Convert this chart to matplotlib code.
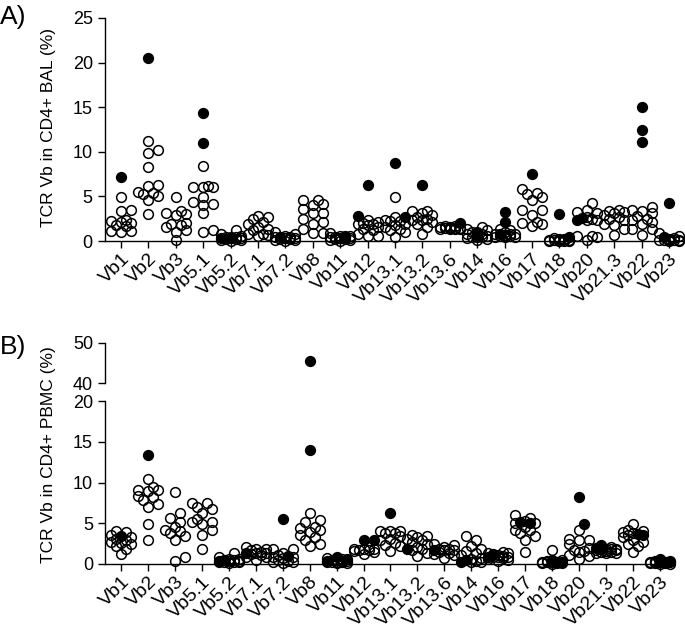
import numpy as np
import matplotlib
matplotlib.use("Agg")
import matplotlib.pyplot as plt

plt.rcParams['font.family'] = ['Liberation Sans', 'DejaVu Sans']

categories = ['Vb1', 'Vb2', 'Vb3', 'Vb5.1', 'Vb5.2', 'Vb7.1', 'Vb7.2', 'Vb8', 'Vb11',
              'Vb12', 'Vb13.1', 'Vb13.2', 'Vb13.6', 'Vb14', 'Vb16', 'Vb17', 'Vb18',
              'Vb20', 'Vb21.3', 'Vb22', 'Vb23']

# A) BAL - open circles / filled circles, per category
bal_open = [
    [4.9, 3.4, 3.5, 2.1, 2.0, 2.2, 2.3, 1.7, 1.1, 1.0, 1.1, 1.8],
    [11.2, 9.9, 10.2, 8.3, 6.2, 6.3, 5.4, 5.3, 5.5, 4.6, 5.1, 3.0],
    [4.9, 3.0, 3.1, 3.4, 2.0, 1.8, 1.6, 1.0, 0.1, 2.9, 1.9, 1.2],
    [8.4, 6.2, 6.0, 6.0, 6.0, 4.9, 4.4, 4.0, 3.1, 1.2, 1.0, 4.1],
    [1.2, 0.8, 0.5, 0.3, 0.1, 0.1, 0.2, 0.6, 0.4, 0.0, 0.3, 0.2],
    [2.8, 2.7, 2.5, 2.1, 1.9, 1.6, 1.2, 0.8, 0.6, 0.8, 0.7, 1.4],
    [1.0, 0.8, 0.5, 0.3, 0.1, 0.1, 0.2, 0.6, 0.0, 0.3, 0.4, 0.2],
    [4.6, 4.6, 4.1, 4.0, 3.6, 3.1, 3.1, 2.5, 2.1, 1.9, 1.3, 0.9, 0.9],
    [0.9, 0.6, 0.3, 0.2, 0.1, 0.4, 0.5, 0.2, 0.1, 0.3, 0.0, 0.6],
    [2.1, 2.0, 1.9, 1.3, 1.2, 0.6, 0.6, 1.6, 2.3, 1.8, 1.9, 0.8],
    [4.9, 2.3, 2.2, 1.6, 1.2, 0.4, 1.9, 1.8, 1.4, 2.7, 2.2, 1.0],
    [3.4, 3.4, 3.1, 2.9, 2.7, 2.5, 2.3, 2.1, 1.9, 1.6, 0.8, 2.4],
    [1.5, 1.6, 1.7, 1.4, 1.5, 1.3, 1.5, 1.6, 1.4, 1.5, 1.7, 1.4],
    [1.6, 1.4, 1.2, 0.8, 0.4, 0.2, 0.1, 0.8, 1.0, 0.6, 0.4, 0.3],
    [1.4, 1.2, 0.8, 0.6, 0.5, 0.7, 0.4, 0.8, 1.0, 0.6, 0.5, 0.8],
    [5.8, 5.3, 5.4, 4.9, 4.6, 3.5, 3.5, 2.9, 2.1, 2.0, 1.7, 1.9],
    [0.1, 0.0, 0.1, 0.2, 0.0, 0.1, 0.3, 0.0, 0.1, 0.2, 0.0, 0.1],
    [4.3, 3.5, 3.2, 3.1, 2.7, 2.5, 2.3, 2.3, 0.6, 0.4, 0.1, 0.6],
    [3.5, 3.4, 3.3, 3.1, 2.9, 2.7, 2.4, 1.9, 1.3, 0.7, 1.8, 2.5],
    [3.8, 3.5, 3.4, 3.1, 2.8, 2.3, 2.1, 1.9, 1.3, 1.3, 0.7, 2.5],
    [0.9, 0.6, 0.1, 0.1, 0.1, 0.1, 0.0, 0.3, 0.1, 0.2, 0.1, 0.0],
]
bal_filled = [
    [7.2], [20.5], [], [14.4, 11.0], [0.5, 0.3], [], [0.5], [], [0.6, 0.4],
    [6.3, 2.8], [8.7, 2.7], [6.3], [2.0], [1.0, 0.5], [3.2, 2.1, 0.8], [7.5],
    [3.0, 0.4], [2.6, 2.4], [], [15.0, 12.4, 11.1], [4.3, 0.4],
]

# B) PBMC - open circles / filled circles, per category
pbmc_open = [
    [4.1, 3.9, 3.6, 3.1, 2.9, 2.7, 2.4, 2.2, 1.9, 1.2, 2.6, 3.3],
    [10.4, 9.5, 9.1, 9.1, 8.9, 8.3, 8.2, 7.9, 7.4, 7.0, 4.9, 3.0],
    [8.8, 6.2, 4.5, 4.2, 4.1, 3.8, 3.4, 5.7, 5.2, 2.9, 0.8, 0.4],
    [7.5, 7.5, 7.0, 6.7, 6.2, 5.5, 5.2, 4.9, 4.2, 3.6, 1.8, 5.1],
    [1.3, 0.9, 0.6, 0.4, 0.3, 0.2, 0.5, 0.3, 0.2, 0.4, 0.1, 0.6],
    [2.1, 1.9, 1.9, 1.5, 1.3, 1.2, 0.8, 0.8, 0.5, 1.7, 1.4, 1.1],
    [1.9, 1.9, 1.3, 1.1, 0.9, 0.7, 0.5, 0.3, 0.2, 0.8, 0.4, 0.1],
    [6.2, 5.2, 5.4, 4.6, 4.4, 4.2, 3.9, 3.6, 3.3, 3.0, 2.4, 2.2],
    [0.3, 0.2, 0.5, 0.1, 0.4, 0.6, 0.3, 0.2, 0.5, 0.1, 0.7, 0.4],
    [1.9, 1.8, 1.7, 1.6, 1.2, 2.1, 1.9, 1.7, 1.5],
    [4.1, 4.1, 3.8, 3.8, 3.4, 3.1, 2.9, 2.6, 2.3, 2.2, 1.6, 4.0],
    [3.6, 3.4, 3.1, 2.9, 2.7, 2.4, 2.1, 1.9, 1.7, 1.4, 1.0, 3.3],
    [2.4, 2.3, 1.9, 1.7, 1.3, 1.2, 0.7, 1.8, 1.5, 2.1, 1.1, 1.7],
    [3.4, 2.9, 1.9, 1.6, 1.3, 1.1, 0.7, 0.6, 0.4, 0.3, 0.2, 2.2],
    [1.5, 1.3, 1.1, 0.9, 0.8, 0.7, 0.6, 0.4, 1.3, 1.0, 0.8, 0.5],
    [6.0, 5.7, 5.3, 5.0, 4.6, 4.2, 4.2, 3.8, 3.4, 3.0, 1.5, 5.0],
    [1.7, 0.5, 0.3, 0.2, 0.1, 0.4, 0.3, 0.2, 0.1, 0.2, 0.1, 0.0],
    [4.2, 3.1, 2.9, 2.9, 2.4, 1.7, 1.5, 1.1, 1.0, 0.6, 1.6, 2.0],
    [1.7, 1.5, 2.1, 1.9, 1.3, 1.7, 1.8, 1.5, 1.4, 1.6, 1.9, 1.3],
    [4.9, 4.2, 4.1, 3.8, 3.6, 3.3, 3.0, 2.7, 2.4, 2.2, 1.5, 3.9],
    [0.4, 0.2, 0.1, 0.3, 0.2, 0.1, 0.0, 0.3, 0.2, 0.1, 0.0, 0.2],
]
pbmc_filled = [
    [3.4], [13.4], [], [], [0.5, 0.4], [1.4], [5.5, 1.0], [45.6, 14.0],
    [0.9, 0.6, 0.4], [2.9, 2.9], [6.2], [1.9], [1.7], [0.5, 0.3], [1.2, 0.9],
    [5.2, 5.0], [0.5, 0.3, 0.2], [8.2, 4.9], [2.3, 2.0, 1.8], [3.7, 3.5],
    [0.6, 0.4, 0.3],
]


def swarm(vals, px_per_y, px_per_x, d=10.0):
    # simple deterministic beeswarm, returns x offsets in data units
    vals = np.asarray(vals, dtype=float)
    offs = np.zeros(len(vals))
    placed = []
    step = 5.0
    cands = [0, 1, -1, 2, -2]
    for i in np.argsort(vals, kind='stable'):
        y = vals[i] * px_per_y
        best, best_d = 0, -1
        for k in cands:
            x = k * step
            md = min([np.hypot(x - px, y - py) for px, py in placed] or [1e9])
            if md >= 0.75 * d:
                best = x
                break
            if md > best_d:
                best, best_d = x, md
        placed.append((best, y))
        offs[i] = best / px_per_x
    return offs


def draw_points(ax, opens, filled, px_per_y, px_per_x, lo, hi):
    for i in range(len(categories)):
        vals = list(opens[i]) + list(filled[i])
        low = [v if v <= 20 else 0 for v in vals]
        offs = swarm(low, px_per_y, px_per_x)
        n = len(opens[i])
        for j, v in enumerate(vals):
            if not (lo <= v <= hi):
                continue
            x = i + (offs[j] if v <= 20 else 0)
            if j < n:
                ax.plot(x, v, 'o', ms=7.0, mfc='none', mec='black', mew=1.1,
                        clip_on=False, zorder=4)
            else:
                ax.plot(x, v, 'o', ms=7.0, mfc='black', mec='black', mew=1.1,
                        clip_on=False, zorder=3)


def style(ax, bottom=True):
    for s in ['top', 'right']:
        ax.spines[s].set_visible(False)
    ax.spines['left'].set_linewidth(1.0)
    ax.spines['bottom'].set_linewidth(1.0)
    ax.tick_params(direction='out', length=5, width=1.0, labelsize=13)
    if bottom:
        ax.set_xticks(range(len(categories)))
        ax.set_xticklabels(categories, rotation=45, ha='right', va='top',
                           rotation_mode='anchor', fontsize=14)
        ax.tick_params(axis='x', pad=2)


fig = plt.figure(figsize=(6.85, 6.3), dpi=100)
W, H = 685, 630

# panel A
axA = fig.add_axes([104.6 / W, 1 - 241 / H, (685.4 - 104.6) / W, 223 / H])
axA.set_xlim(-0.6, 20.6)
axA.set_ylim(0, 25)
axA.set_yticks([0, 5, 10, 15, 20, 25])
style(axA)
draw_points(axA, bal_open, bal_filled, 223 / 25, 27.4, 0, 25)
fig.text(48 / W, 1 - 128 / H, 'TCR Vb in CD4+ BAL (%)', rotation=90,
         ha='center', va='center', fontsize=12.5)
fig.text(0 / W, 1 - 17 / H, 'A)', ha='left', va='center', fontsize=19)

# panel B (broken axis)
xl, xr = 121 - 0.6 * 26.95, 660 + 0.5 * 26.95
axB = fig.add_axes([xl / W, 1 - 564 / H, (xr - xl) / W, 163 / H])
axB.set_xlim(-0.6, 20.5)
axB.set_ylim(0, 20)
axB.set_yticks([0, 5, 10, 15, 20])
style(axB)
draw_points(axB, pbmc_open, pbmc_filled, 163 / 20, 26.95, 0, 20)

axB2 = fig.add_axes([xl / W, 1 - 383 / H, (xr - xl) / W, 40 / H])
axB2.set_xlim(-0.6, 20.5)
axB2.set_ylim(40, 50)
axB2.set_yticks([40, 50])
axB2.spines['bottom'].set_visible(False)
axB2.set_xticks([])
style(axB2, bottom=False)
axB2.patch.set_visible(False)
draw_points(axB2, pbmc_open, pbmc_filled, 163 / 20, 26.95, 40, 50)

fig.text(48 / W, 1 - 455 / H, 'TCR Vb in CD4+ PBMC (%)', rotation=90,
         ha='center', va='center', fontsize=12.5)
fig.text(0 / W, 1 - 347 / H, 'B)', ha='left', va='center', fontsize=19)

fig.savefig('out.png', dpi=100)
